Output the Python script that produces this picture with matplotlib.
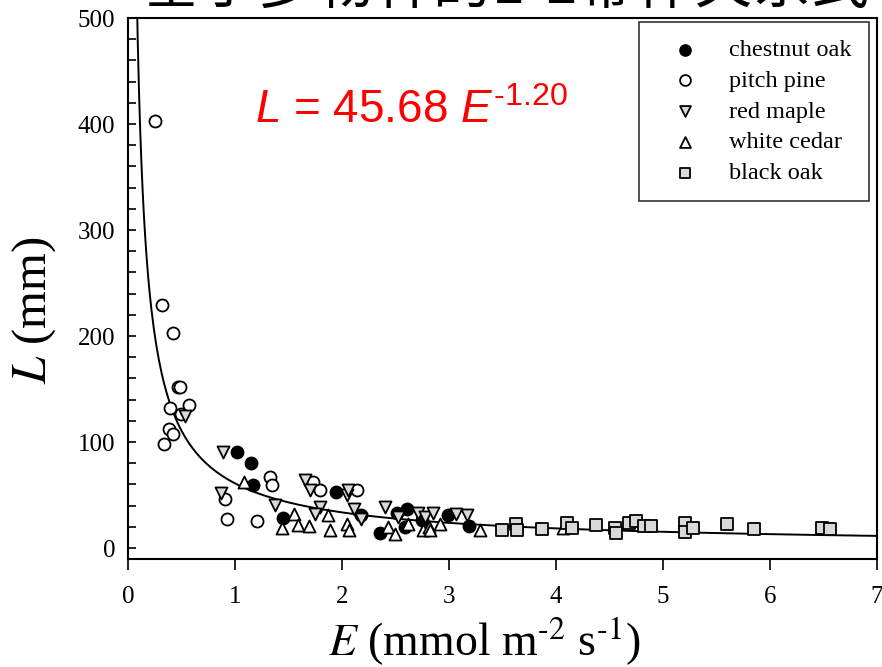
import numpy as np
import matplotlib.pyplot as plt
from matplotlib.ticker import MultipleLocator

plt.rcParams['font.family'] = ['Liberation Serif', 'DejaVu Sans']
plt.rcParams['mathtext.fontset'] = 'custom'
plt.rcParams['mathtext.rm'] = 'Liberation Sans'
plt.rcParams['mathtext.it'] = 'Liberation Sans:italic'

# data: E (mmol m-2 s-1) and L (mm) per species
chestnut_E = [1.02, 1.15, 1.17, 1.445, 1.94, 2.18, 2.355, 2.51, 2.61, 2.59, 2.745, 2.99, 3.19]
chestnut_L = [90.8, 80.5, 59, 28, 53, 31, 14, 33.5, 36.5, 19.5, 26.4, 31, 21]

pine_E = [0.25, 0.315, 0.42, 0.47, 0.49, 0.39, 0.57, 0.50, 0.38, 0.42, 0.34,
          0.906, 0.93, 1.21, 1.33, 1.35, 1.73, 1.79, 2.14]
pine_L = [403, 229, 203, 152, 152, 132, 135, 126, 112, 107.5, 98,
          46, 27, 25.5, 67, 59, 62.5, 55, 55]

maple_E = [0.53, 0.89, 0.87, 1.37, 1.65, 1.70, 1.79, 1.75, 2.05, 2.06, 2.11,
           2.18, 2.40, 2.52, 2.71, 2.78, 2.85, 3.07, 3.17]
maple_L = [125, 90.8, 52.2, 40.6, 64, 54.7, 38.4, 31.8, 50, 55, 36.5,
           27.4, 38.4, 29, 33.3, 29.5, 32.7, 31.8, 31.1]

cedar_E = [1.08, 1.44, 1.55, 1.59, 1.69, 1.87, 1.89, 2.05, 2.07, 2.43, 2.50,
           2.62, 2.76, 2.81, 2.82, 2.92, 3.29, 4.07]
cedar_L = [62.5, 18.5, 32, 22, 21, 31, 17, 23, 17, 20, 13,
           23, 17, 20, 17, 22.4, 17, 19]

blackoak_E = [3.50, 3.63, 3.64, 3.87, 4.10, 4.15, 4.37, 4.55, 4.56, 4.68, 4.75,
              4.82, 4.89, 5.21, 5.21, 5.28, 5.60, 5.85, 6.49, 6.56]
blackoak_L = [17, 23, 17, 17.6, 24, 18.6, 21.7, 18.6, 14, 24, 25.8,
              20.8, 20.8, 23.3, 15.4, 19.2, 22.6, 17.9, 18.6, 17.9]

# fitted power curve as drawn in the figure
fit_a = 61.0
fit_b = -0.86

fig = plt.figure(figsize=(8.82, 6.67), dpi=100)
ax = fig.add_axes([0.1451, 0.1625, 0.8492, 0.8105])

e_line = np.linspace(0.08, 7, 600)
ax.plot(e_line, fit_a * e_line ** fit_b, color='black', lw=1.4, zorder=2)

mk = dict(s=75, edgecolors='black', linewidths=1.3, zorder=3)
ax.scatter(chestnut_E, chestnut_L, marker='o', c='black', label='chestnut oak', **mk)
ax.scatter(pine_E, pine_L, marker='o', c='white', label='pitch pine', **mk)
ax.scatter(maple_E, maple_L, marker='v', c='#d9d9d9', label='red maple', **mk)
ax.scatter(cedar_E, cedar_L, marker='^', c='white', label='white cedar', **mk)
ax.scatter(blackoak_E, blackoak_L, marker='s', c='#d9d9d9', label='black oak', **mk)

ax.set_xlim(0, 7)
ax.set_ylim(-10, 500)
ax.xaxis.set_major_locator(MultipleLocator(1))
ax.yaxis.set_major_locator(MultipleLocator(100))
ax.yaxis.set_minor_locator(MultipleLocator(20))
ax.tick_params(axis='x', direction='out', length=8, width=1.2, pad=12, labelsize=18)
ax.tick_params(axis='y', which='both', direction='in', length=6, width=1.2, pad=9, labelsize=18)
for sp in ax.spines.values():
    sp.set_linewidth(1.5)

ax.set_xlabel(r'$E$ (mmol m$^{\text{-}2}$ s$^{\text{-}1}$)', fontsize=33,
              math_fontfamily='stix')
ax.xaxis.set_label_coords(0.475, -0.105)
ax.set_ylabel(r'$L$ (mm)', fontsize=35, math_fontfamily='stix')
ax.yaxis.set_label_coords(-0.094, 0.46)

ax.text(1.19, 401, r'$L$ = 45.68 $E^{\text{-1.20}}$', color='red', fontsize=33,
        family='Liberation Sans', ha='left', va='baseline')

leg = ax.legend(loc='upper right', bbox_to_anchor=(0.9893, 0.9926), borderaxespad=0,
                fontsize=17.5, frameon=True, fancybox=False, edgecolor='black',
                handlelength=2.4, handletextpad=0.62, borderpad=0.7,
                labelspacing=0.36, markerscale=0.9)
leg.get_frame().set_linewidth(1.2)

fig.text(0.574, 1 - 17 / 667, '基于多物种的L-E幂律关系式', fontsize=42,
         family=['Noto Sans CJK SC', 'DejaVu Sans'], ha='center', va='bottom')

fig.savefig('out.png', dpi=100)
